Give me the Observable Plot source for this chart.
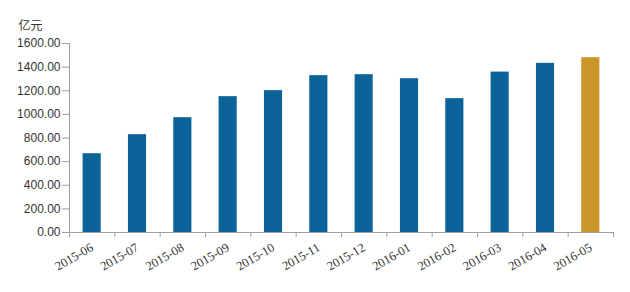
<!DOCTYPE html>
<html><head><meta charset="utf-8">
<script src="https://cdn.jsdelivr.net/npm/d3@7"></script>
<script src="https://cdn.jsdelivr.net/npm/@observablehq/plot@0.6"></script>
<style>
body{margin:0;background:#fff;}
</style>
</head><body>
<div id="chart"></div>
<script>
const months = ["2015-06","2015-07","2015-08","2015-09","2015-10","2015-11","2015-12","2016-01","2016-02","2016-03","2016-04","2016-05"];
const values = [667, 828, 972, 1150, 1201, 1328, 1336, 1302, 1133, 1358, 1432, 1480];
const yTicks = [0, 200, 400, 600, 800, 1000, 1200, 1400, 1600];
const highlight = "2016-05";
const unitLabel = "亿元";

const data = months.map((m, i) => ({month: m, idx: i, value: values[i]}));
const edges = d3.range(months.length + 1);
const centers = months.map((m, i) => i + 0.5);

const chart = Plot.plot({
  width: 630,
  height: 292,
  marginLeft: 69,
  marginRight: 17,
  marginTop: 43,
  marginBottom: 60,
  style: {fontFamily: "'Liberation Sans', sans-serif", background: "#fff"},
  x: {type: "linear", domain: [0, months.length], axis: null},
  y: {domain: [0, 1600], axis: null},
  marks: [
    Plot.rectY(data, {
      x: "idx", interval: 1, y: "value",
      insetLeft: 13.6, insetRight: 13.6,
      fill: d => d.month === highlight ? "#c9962a" : "#0b6399"
    }),
    Plot.ruleX([0], {stroke: "#a0a0a0"}),
    Plot.ruleY([0], {stroke: "#a0a0a0"}),
    Plot.axisY({
      ticks: yTicks, tickSize: 7, stroke: "#a0a0a0",
      tickFormat: d => d3.format(".2f")(d),
      fontSize: 12, fill: "#333", tickPadding: 2,
      label: null
    }),
    Plot.axisX({
      ticks: edges, tickSize: 5, stroke: "#a0a0a0", tickFormat: () => "", label: null
    }),
    Plot.axisX({
      ticks: centers, tickSize: 0, tickFormat: d => months[Math.round(d - 0.5)],
      tickRotate: -30, textAnchor: "end", fontSize: 12.5,
      fontFamily: "'Liberation Serif', serif", fill: "#333",
      tickPadding: 14, label: null
    }),
    Plot.text([unitLabel], {
      frameAnchor: "top-left", dx: -51, dy: -22, text: d => d,
      fontSize: 12, fill: "#333", fontFamily: "'Noto Sans CJK SC', sans-serif", textAnchor: "start"
    })
  ]
});
document.getElementById("chart").appendChild(chart);
</script>
</body></html>
